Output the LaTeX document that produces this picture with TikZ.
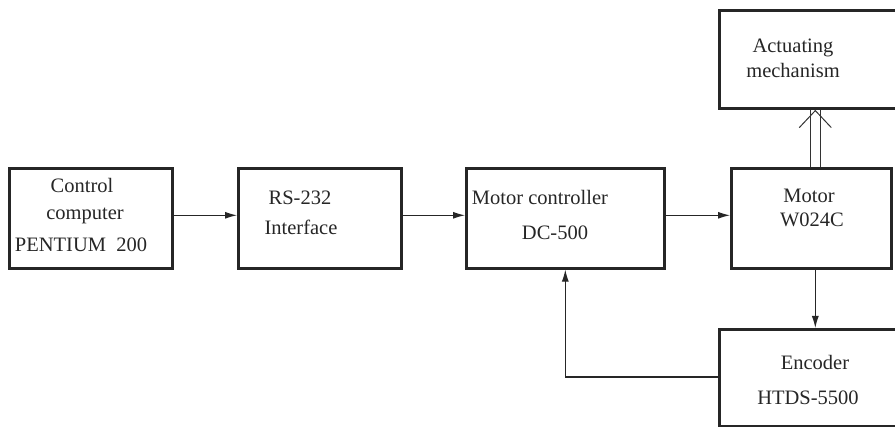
\documentclass[tikz,border=0pt]{standalone}
\usepackage{fontspec}
\setmainfont{Liberation Serif}
\usetikzlibrary{arrows.meta,calc}
\begin{document}
\begin{tikzpicture}[x=1pt,y=-1pt,
  blk/.style={draw=black!85,line width=2.6pt,rectangle,inner sep=0pt,anchor=north west},
  lbl/.style={anchor=base,inner sep=0pt,font=\fontsize{20.5}{24}\selectfont,text=black!85},
  arr/.style={draw=black!85,line width=1.1pt,-{Latex[length=12pt,width=7pt]}},
  shaft/.style={draw=black!80,line width=1pt}]
\useasboundingbox (0,0) rectangle (895,427);
\clip (0,0) rectangle (895,427);
% boxes
\node[blk,minimum width=163pt,minimum height=100pt] (ctrl) at (8,167) {};
\node[blk,minimum width=163pt,minimum height=100pt] (rs) at (237,167) {};
\node[blk,minimum width=198pt,minimum height=100pt] (mc) at (465,167) {};
\node[blk,minimum width=160pt,minimum height=100pt] (motor) at (730,167) {};
\node[blk,minimum width=260pt,minimum height=98pt] (act) at (718,9) {};
\node[blk,minimum width=260pt,minimum height=97pt] (enc) at (718,328) {};
% texts
\node[lbl] (t1) at (82,193) {Control};
\node[lbl] (t2) at (85,220) {computer};
\node[lbl] (t3) at (81,252) {PENTIUM\ \ 200};
\node[lbl] (t4) at (300,205) {RS-232};
\node[lbl] (t5) at (301,235) {Interface};
\node[lbl] (t6) at (540,205) {Motor controller};
\node[lbl] (t7) at (555,240) {DC-500};
\node[lbl] (t8) at (793,53) {Actuating};
\node[lbl] (t9) at (793,78) {mechanism};
\node[lbl] (t10) at (809,203) {Motor};
\node[lbl] (t11) at (812,227) {W024C};
\node[lbl] (t12) at (815,370) {Encoder};
\node[lbl] (t13) at (808,405) {HTDS-5500};
% connectors
\draw[arr] ([yshift=3]ctrl.east) -- ([yshift=3]rs.west);
\draw[arr] ([yshift=3]rs.east) -- ([yshift=3]mc.west);
\draw[arr] ([yshift=3]mc.east) -- ([yshift=3]motor.west);
\draw[arr] ([xshift=4]motor.south) -- ([xshift=4]motor.south |- enc.north);
\draw[arr] (enc.west |- 0,377) -| (mc.south);
% double shaft to actuating mechanism
\coordinate (apex) at ($(act.south -| motor.north)+(4,1)$);
\draw[shaft] ($(motor.north)+(-1,0)$) -- ($(motor.north |- act.south)+(-1,0)$);
\draw[shaft] ($(motor.north)+(9,0)$) -- ($(motor.north |- act.south)+(9,0)$);
\draw[shaft] ($(apex)+(-16,17)$) -- (apex) -- ($(apex)+(16,17)$);
\end{tikzpicture}
\end{document}
